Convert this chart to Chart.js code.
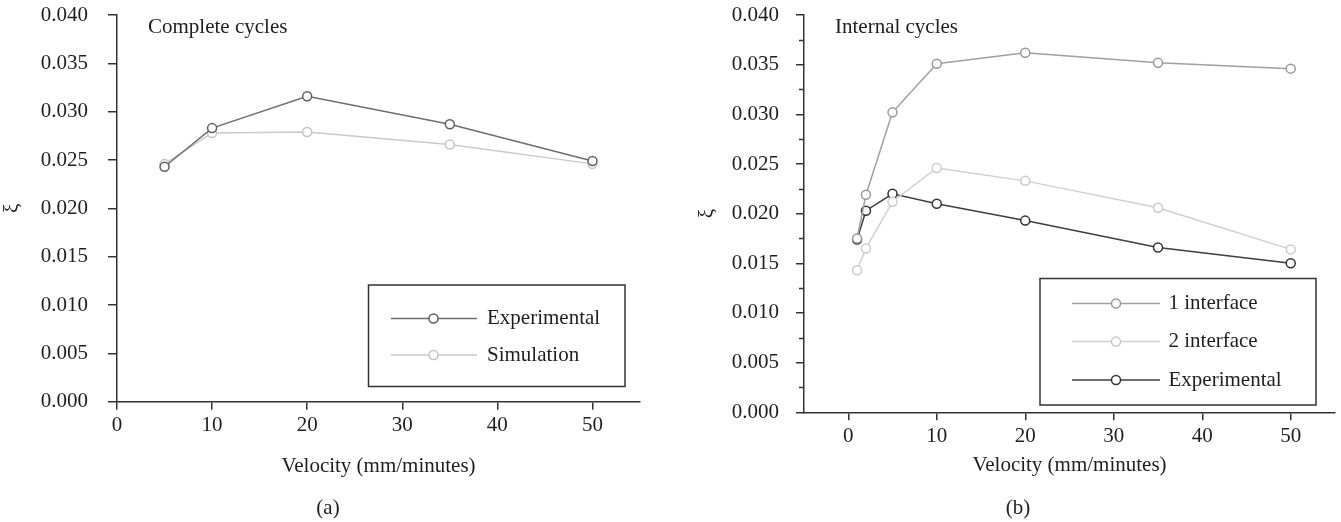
<!DOCTYPE html>
<html><head><meta charset="utf-8">
<script src="https://cdn.jsdelivr.net/npm/chart.js@4.4.1/dist/chart.umd.min.js"></script>
<style>
html,body{margin:0;padding:0;background:#fff;width:1341px;height:522px;overflow:hidden}
canvas{position:absolute;top:0}
#ca{left:0}
#cb{left:670px}
</style></head><body>
<canvas id="ca" width="670" height="522"></canvas>
<canvas id="cb" width="671" height="522"></canvas>
<script>
// ---- Panel (a): complete cycles ----
const velA = [5, 10, 20, 35, 50];
const expA = [0.0243, 0.0283, 0.0316, 0.0287, 0.0249];
const simA = [0.0246, 0.0278, 0.0279, 0.0266, 0.0246];
// ---- Panel (b): internal cycles ----
const velB = [1, 2, 5, 10, 20, 35, 50];
const int1B = [0.0175, 0.0219, 0.0302, 0.0351, 0.0362, 0.0352, 0.0346];
const int2B = [0.0143, 0.0165, 0.0212, 0.0246, 0.0233, 0.0206, 0.0164];
const expB  = [0.0174, 0.0203, 0.0220, 0.0210, 0.0193, 0.0166, 0.0150];
// ---- ticks / labels ----
const xTicks = [0, 10, 20, 30, 40, 50];
const yTicks = [0, 0.005, 0.010, 0.015, 0.020, 0.025, 0.030, 0.035, 0.040];
const yMinorB = [0.0025, 0.0075, 0.0125, 0.0175, 0.0225, 0.0275, 0.0325, 0.0375];
const titleA = 'Complete cycles', titleB = 'Internal cycles';
const xTitle = 'Velocity (mm/minutes)', yTitle = 'ξ';
const capA = '(a)', capB = '(b)';

const FONT = '"Liberation Serif", "Times New Roman", serif';
const FS = 21;
const TXT = '#1e1e1e';
const AX = '#333333';
Chart.defaults.font.family = FONT;
Chart.defaults.font.size = FS;
Chart.defaults.color = TXT;

function pts(xs, ys){ return xs.map((v,i)=>({x:v, y:ys[i]})); }
function ds(label, xs, ys, col, pcol){
  return {label, data: pts(xs, ys), borderColor: col, backgroundColor: '#fff',
    borderWidth: 1.5, pointRadius: 4.5, pointBorderWidth: 1.5,
    pointBackgroundColor: '#fff', pointBorderColor: pcol || col, tension: 0, clip: false};
}

function textPlugin(items){
  return {id:'texts', afterDraw(chart){
    const ctx = chart.ctx; ctx.save();
    ctx.font = FS + 'px ' + FONT; ctx.fillStyle = TXT;
    items.forEach(t=>{ ctx.textAlign = t.align; ctx.textBaseline = t.base; ctx.fillText(t.text, t.x, t.y); });
    ctx.restore();
  }};
}
function legendPlugin(box, line, rows){
  return {id:'customLegend', afterDraw(chart){
    const ctx = chart.ctx; ctx.save();
    ctx.fillStyle = '#fff'; ctx.fillRect(box.x, box.y, box.w, box.h);
    ctx.lineWidth = 1.5; ctx.strokeStyle = AX; ctx.strokeRect(box.x, box.y, box.w, box.h);
    rows.forEach(r=>{
      const d = chart.data.datasets[r.i];
      ctx.strokeStyle = d.borderColor; ctx.lineWidth = 1.5;
      ctx.beginPath(); ctx.moveTo(line.x1, r.y); ctx.lineTo(line.x2, r.y); ctx.stroke();
      ctx.beginPath(); ctx.arc(line.cx, r.y, 4.5, 0, Math.PI*2);
      ctx.fillStyle = '#fff'; ctx.fill(); ctx.strokeStyle = d.pointBorderColor; ctx.stroke();
      ctx.fillStyle = TXT; ctx.font = FS + 'px ' + FONT; ctx.textAlign = 'left'; ctx.textBaseline = 'middle';
      ctx.fillText(d.label, line.tx, r.y);
    });
    ctx.restore();
  }};
}
const minorPlugin = {id:'minor', afterDraw(chart){
  const y = chart.scales.y, ctx = chart.ctx; const x0 = chart.chartArea.left;
  ctx.save(); ctx.strokeStyle = AX; ctx.lineWidth = 1.5;
  yMinorB.forEach(v=>{ const p = Math.round(y.getPixelForValue(v)) + 0.5;
    ctx.beginPath(); ctx.moveTo(x0 - 5, p); ctx.lineTo(x0, p); ctx.stroke(); });
  ctx.restore();
}};

function scales(cfg){
  return {
    x: {type:'linear', min: cfg.xmin, max: cfg.xmax,
      afterBuildTicks: s => { s.ticks = xTicks.map(v=>({value:v})); },
      afterFit: s => { s.height = cfg.xh; s.paddingLeft = 0; s.paddingRight = 0; },
      border: {display:true, color: AX, width: 1.5},
      grid: {drawOnChartArea:false, drawTicks:true, tickLength: 8, tickColor: AX, lineWidth: 1.5, tickWidth: 1.5},
      ticks: {padding: cfg.xpad, maxRotation:0, autoSkip:false, color: TXT, font:{size:FS}, callback: v => String(v)},
      title: {display:true, text: xTitle, color: TXT, font:{size:FS}, padding:{top:0,bottom:0}}
    },
    y: {type:'linear', min:0, max:0.04,
      afterBuildTicks: s => { s.ticks = yTicks.map(v=>({value:v})); },
      afterFit: s => { s.width = cfg.yw; s.paddingTop = 0; s.paddingBottom = 0; },
      border: {display:true, color: AX, width: 1.5},
      grid: {drawOnChartArea:false, drawTicks:true, tickLength: cfg.ytl, tickColor: AX, lineWidth: 1.5, tickWidth: 1.5},
      ticks: {padding: cfg.ypad, autoSkip:false, color: TXT, font:{size:FS}, callback: v => Number(v).toFixed(3)},
      title: {display:true, text: yTitle, color: TXT, font:{size:FS}, padding:{top:0,bottom:0}}
    }
  };
}

const common = {responsive:false, animation:false, devicePixelRatio:1,
  plugins:{legend:{display:false}, tooltip:{enabled:false}}, events:[]};

new Chart(document.getElementById('ca'), {
  type:'line',
  data:{datasets:[
    ds('Experimental', velA, expA, '#6e6e6e', '#5e5e5e'),
    ds('Simulation', velA, simA, '#cacaca', '#c4c4c4')
  ]},
  options: Object.assign({}, common, {
    layout:{padding:{left:0, right:30, top:15, bottom:43.3}},
    scales: scales({xmin:0, xmax:55, xh:77, xpad:3, yw:117, ytl:9, ypad:20})
  }),
  plugins:[
    textPlugin([
      {text:titleA, x:148, y:33, align:'left', base:'alphabetic'},
      {text:capA, x:328, y:508, align:'center', base:'middle'}
    ]),
    legendPlugin({x:368.5, y:285, w:256.5, h:101.5}, {x1:391, x2:477, cx:433.5, tx:487},
      [{i:0, y:318.5}, {i:1, y:355}])
  ]
});

new Chart(document.getElementById('cb'), {
  type:'line',
  data:{datasets:[
    ds('1 interface', velB, int1B, '#a0a0a0', '#9a9a9a'),
    ds('2 interface', velB, int2B, '#d0d0d0', '#cacaca'),
    ds('Experimental', velB, expB, '#3e3e3e', '#333333')
  ]},
  options: Object.assign({}, common, {
    layout:{padding:{left:24.7, right:6, top:15, bottom:43.7}},
    scales: scales({xmin:-5, xmax:55, xh:66, xpad:4, yw:109.3, ytl:8, ypad:17})
  }),
  plugins:[
    minorPlugin,
    textPlugin([
      {text:titleB, x:165, y:33, align:'left', base:'alphabetic'},
      {text:capB, x:348, y:508, align:'center', base:'middle'}
    ]),
    legendPlugin({x:370, y:278.5, w:276, h:126.5}, {x1:402, x2:490, cx:446, tx:498.5},
      [{i:0, y:303.5}, {i:1, y:341.5}, {i:2, y:380}])
  ]
});
</script>
</body></html>
